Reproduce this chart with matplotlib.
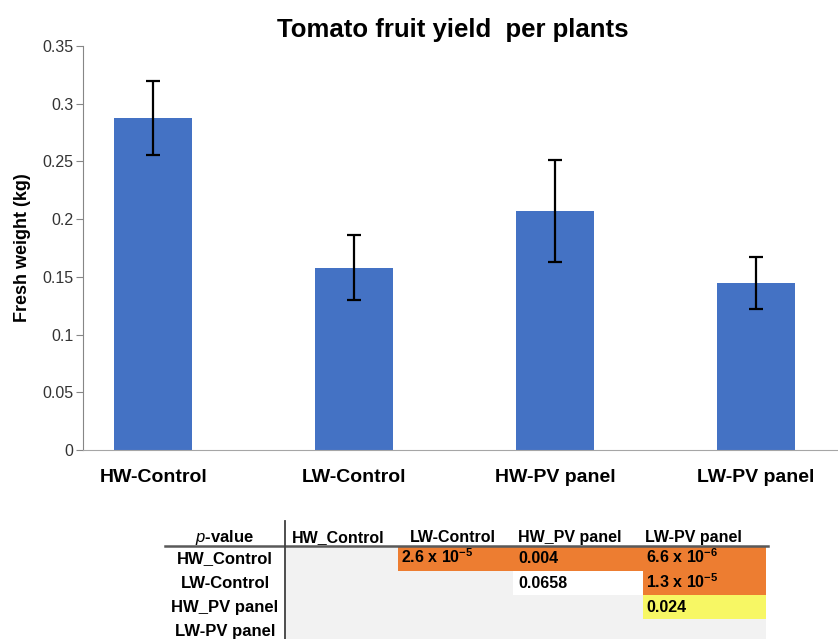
import matplotlib
matplotlib.use("Agg")
import matplotlib.pyplot as plt
from matplotlib.patches import Rectangle
from matplotlib.lines import Line2D

plt.rcParams['font.family'] = ['Liberation Sans', 'DejaVu Sans']
plt.rcParams['mathtext.fontset'] = 'custom'
plt.rcParams['mathtext.rm'] = 'Liberation Sans'
plt.rcParams['mathtext.bf'] = 'Liberation Sans:bold'
plt.rcParams['mathtext.it'] = 'Liberation Sans:italic'

# ---- data ----
categories = ["HW-Control", "LW-Control", "HW-PV panel", "LW-PV panel"]
means = [0.288, 0.158, 0.207, 0.145]
errors = [0.032, 0.028, 0.044, 0.0225]
yticks = [0, 0.05, 0.1, 0.15, 0.2, 0.25, 0.3, 0.35]
ytick_labels = ["0", "0.05", "0.1", "0.15", "0.2", "0.25", "0.3", "0.35"]

table_rows = ["HW_Control", "LW-Control", "HW_PV panel", "LW-PV panel"]
table_cols = ["HW_Control", "LW-Control", "HW_PV panel", "LW-PV panel"]
# (row, col, text, colour)
p_values = [
    (0, 1, r"2.6 x 10$^{\mathbf{-5}}$", "orange"),
    (0, 2, "0.004", "orange"),
    (0, 3, r"6.6 x 10$^{\mathbf{-6}}$", "orange"),
    (1, 2, "0.0658", "white"),
    (1, 3, r"1.3 x 10$^{\mathbf{-5}}$", "orange"),
    (2, 3, "0.024", "yellow"),
]
cell_colours = {"orange": "#ED7D31", "white": "#FFFFFF", "yellow": "#F7F764"}

W, H = 838, 639
fig = plt.figure(figsize=(W / 100, H / 100), dpi=100)

def fx(px):
    return px / W

def fy(py):
    return 1 - py / H

ax = fig.add_axes([fx(83), fy(450), fx(838) - fx(83), fy(46) - fy(450)])
ax.bar(range(len(categories)), means, width=0.39, color="#4472C4", zorder=2)
ax.errorbar(range(len(categories)), means, yerr=errors, fmt="none", ecolor="black",
            elinewidth=1.6, capsize=5, capthick=1.6, zorder=3)
ax.set_ylim(0, 0.35)
ax.set_xlim(-0.35, 3.41)
ax.set_yticks(yticks)
ax.set_yticklabels(ytick_labels, fontsize=11.5, color="#333333")
ax.set_xticks(range(len(categories)))
ax.set_xticklabels(categories, fontsize=14, fontweight="bold")
ax.tick_params(axis="x", length=0, pad=14)
ax.tick_params(axis="y", length=5, color="#868686", pad=2)
for s in ["top", "right"]:
    ax.spines[s].set_visible(False)
ax.spines["left"].set_color("#868686")
ax.spines["bottom"].set_color("#A6A6A6")
ax.set_ylabel("Fresh weight (kg)", fontsize=13, fontweight="bold", labelpad=8)
fig.text(fx(453), fy(30), "Tomato fruit yield  per plants", fontsize=18.5,
         fontweight="bold", ha="center", va="center")

# ---- p-value table ----
col_edges = [285, 398, 513, 643, 766]
row_edges = [547, 571, 595, 619, 643]
col_text_x = [292, 401, 518, 646]
header_x = [292, 410, 518, 645]
row_baseline = [563, 588, 612, 636]
header_baseline = 542

fig.patches.append(Rectangle((fx(285), fy(639)), fx(766) - fx(285), fy(547) - fy(639),
                             transform=fig.transFigure, facecolor="#F2F2F2",
                             edgecolor="none", zorder=0))
for r, c, txt, col in p_values:
    x0, x1 = col_edges[c], col_edges[c + 1]
    y0, y1 = row_edges[r], row_edges[r + 1]
    fig.patches.append(Rectangle((fx(x0), fy(y1)), fx(x1) - fx(x0), fy(y0) - fy(y1),
                                 transform=fig.transFigure, facecolor=cell_colours[col],
                                 edgecolor="none", zorder=1))
    fig.text(fx(col_text_x[c]), fy(row_baseline[r]), txt, fontsize=11.5, fontweight="bold",
             ha="left", va="baseline", zorder=3)

fig.text(fx(225), fy(header_baseline), r"$\mathit{p}$-value", fontsize=12,
         fontweight="bold", ha="center", va="baseline")
for i, h in enumerate(table_cols):
    fig.text(fx(header_x[i]), fy(header_baseline), h, fontsize=11.5, fontweight="bold",
             ha="left", va="baseline")
for i, rl in enumerate(table_rows):
    fig.text(fx(225), fy(row_baseline[i]), rl, fontsize=12, fontweight="bold",
             ha="center", va="baseline")

fig.lines.append(Line2D([fx(165), fx(768)], [fy(546), fy(546)], transform=fig.transFigure,
                        color="#595959", linewidth=1.8, zorder=4))
fig.lines.append(Line2D([fx(285), fx(285)], [fy(521), fy(639)], transform=fig.transFigure,
                        color="#404040", linewidth=1.3, zorder=4))

fig.savefig("out.png", dpi=100)
